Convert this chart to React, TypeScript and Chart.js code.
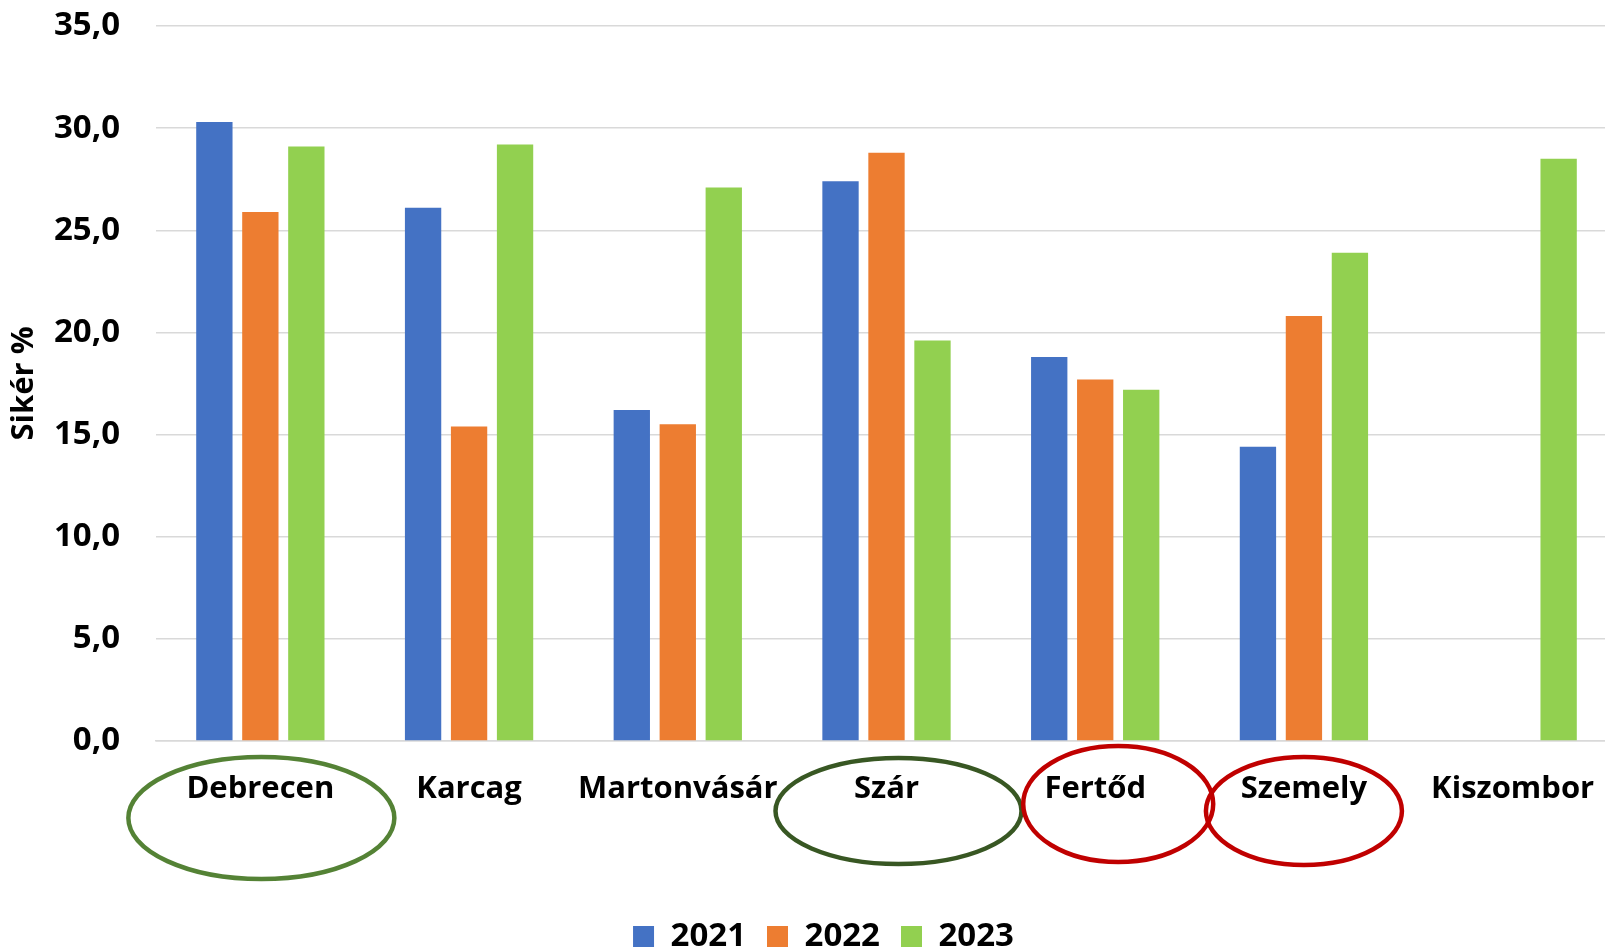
import { useEffect, useRef } from "react";
import { Chart, registerables } from "chart.js";

Chart.register(...registerables);

const categories = ["Debrecen", "Karcag", "Martonvásár", "Szár", "Fertőd", "Szemely", "Kiszombor"];
const seriesLabels = ["2021", "2022", "2023"];
const values2021 = [30.3, 26.1, 16.2, 27.4, 18.8, 14.4, null];
const values2022 = [25.9, 15.4, 15.5, 28.8, 17.7, 20.8, null];
const values2023 = [29.1, 29.2, 27.1, 19.6, 17.2, 23.9, 28.5];
const yMin = 0;
const yMax = 35;
const yStep = 5;
const yTitle = "Sikér %";

const seriesColors = ["#4472C4", "#ED7D31", "#92D050"];

// decorative ellipses around some category labels
const highlightMarks = [
  { category: "Debrecen", color: "#548235", dx: 1, dy: 77, rx: 133, ry: 61 },
  { category: "Szár", color: "#385723", dx: 12, dy: 70, rx: 123, ry: 53 },
  { category: "Fertőd", color: "#C00000", dx: 23, dy: 63, rx: 95, ry: 58 },
  { category: "Szemely", color: "#C00000", dx: 0, dy: 70, rx: 98, ry: 54 },
];

const FONT = "'Open Sans', 'Liberation Sans', sans-serif";

const ellipsePlugin = {
  id: "ellipses",
  afterDraw(chart: any) {
    const { ctx, scales, chartArea } = chart;
    const xs = scales.x;
    ctx.save();
    highlightMarks.forEach((m) => {
      const idx = categories.indexOf(m.category);
      const cx = xs.getPixelForValue(idx) + m.dx;
      const cy = chartArea.bottom + m.dy;
      ctx.beginPath();
      ctx.ellipse(cx, cy, m.rx, m.ry, 0, 0, Math.PI * 2);
      ctx.lineWidth = 4.5;
      ctx.strokeStyle = m.color;
      ctx.stroke();
    });
    ctx.restore();
  },
};

const legendShiftPlugin = {
  id: "legendShift",
  afterLayout(chart: any) {
    const lg = chart.legend;
    if (lg) {
      lg.left += 15;
      lg.right += 15;
    }
  },
};

export default function App() {
  const ref = useRef<HTMLCanvasElement | null>(null);

  useEffect(() => {
    if (!ref.current) return;
    const data = [values2021, values2022, values2023];
    const chart = new Chart(ref.current, {
      type: "bar",
      data: {
        labels: categories,
        datasets: seriesLabels.map((label, i) => ({
          label,
          data: data[i] as any,
          backgroundColor: seriesColors[i],
          borderWidth: 0,
          categoryPercentage: 0.661,
          barPercentage: 0.79,
        })),
      },
      options: {
        responsive: false,
        animation: false,
        devicePixelRatio: 1,
        layout: { padding: { top: 26, left: 0, right: 0, bottom: 0 } },
        plugins: {
          legend: {
            position: "bottom",
            labels: {
              boxWidth: 21,
              boxHeight: 21,
              padding: 21,
              color: "#000",
              font: { family: FONT, size: 33, weight: "bold" },
            },
          },
          tooltip: { enabled: false },
        },
        scales: {
          x: {
            grid: { display: false, drawTicks: false },
            border: { display: true, color: "#D9D9D9", width: 1.5 },
            ticks: {
              color: "#000",
              padding: 30,
              maxRotation: 0,
              autoSkip: false,
              font: { family: FONT, size: 31, weight: "bold" },
            },
            afterFit: (scale: any) => {
              scale.height = 158;
              scale.paddingLeft = 0;
              scale.paddingRight = 0;
            },
          },
          y: {
            min: yMin,
            max: yMax,
            ticks: {
              stepSize: yStep,
              color: "#000",
              padding: 36,
              font: { family: FONT, size: 33, weight: "bold" },
              callback: (v: any) => Number(v).toFixed(1).replace(".", ","),
            },
            grid: { color: "#D9D9D9", lineWidth: 1.5, drawTicks: false },
            border: { display: false },
            title: {
              display: true,
              text: yTitle,
              color: "#000",
              padding: { top: 6, bottom: 0 },
              font: { family: FONT, size: 31, weight: "bold" },
            },
            afterFit: (scale: any) => {
              scale.width = 156;
              scale.paddingTop = 0;
              scale.paddingBottom = 0;
            },
          },
        },
      },
      plugins: [ellipsePlugin, legendShiftPlugin],
    });
    return () => chart.destroy();
  }, []);

  return (
    <div
      style={{
        position: "fixed",
        left: 0,
        top: 0,
        width: 1605,
        height: 950,
        overflow: "hidden",
        background: "#fff",
      }}
    >
      <canvas ref={ref} width={1617} height={963} style={{ width: 1617, height: 963, display: "block" }} />
    </div>
  );
}
